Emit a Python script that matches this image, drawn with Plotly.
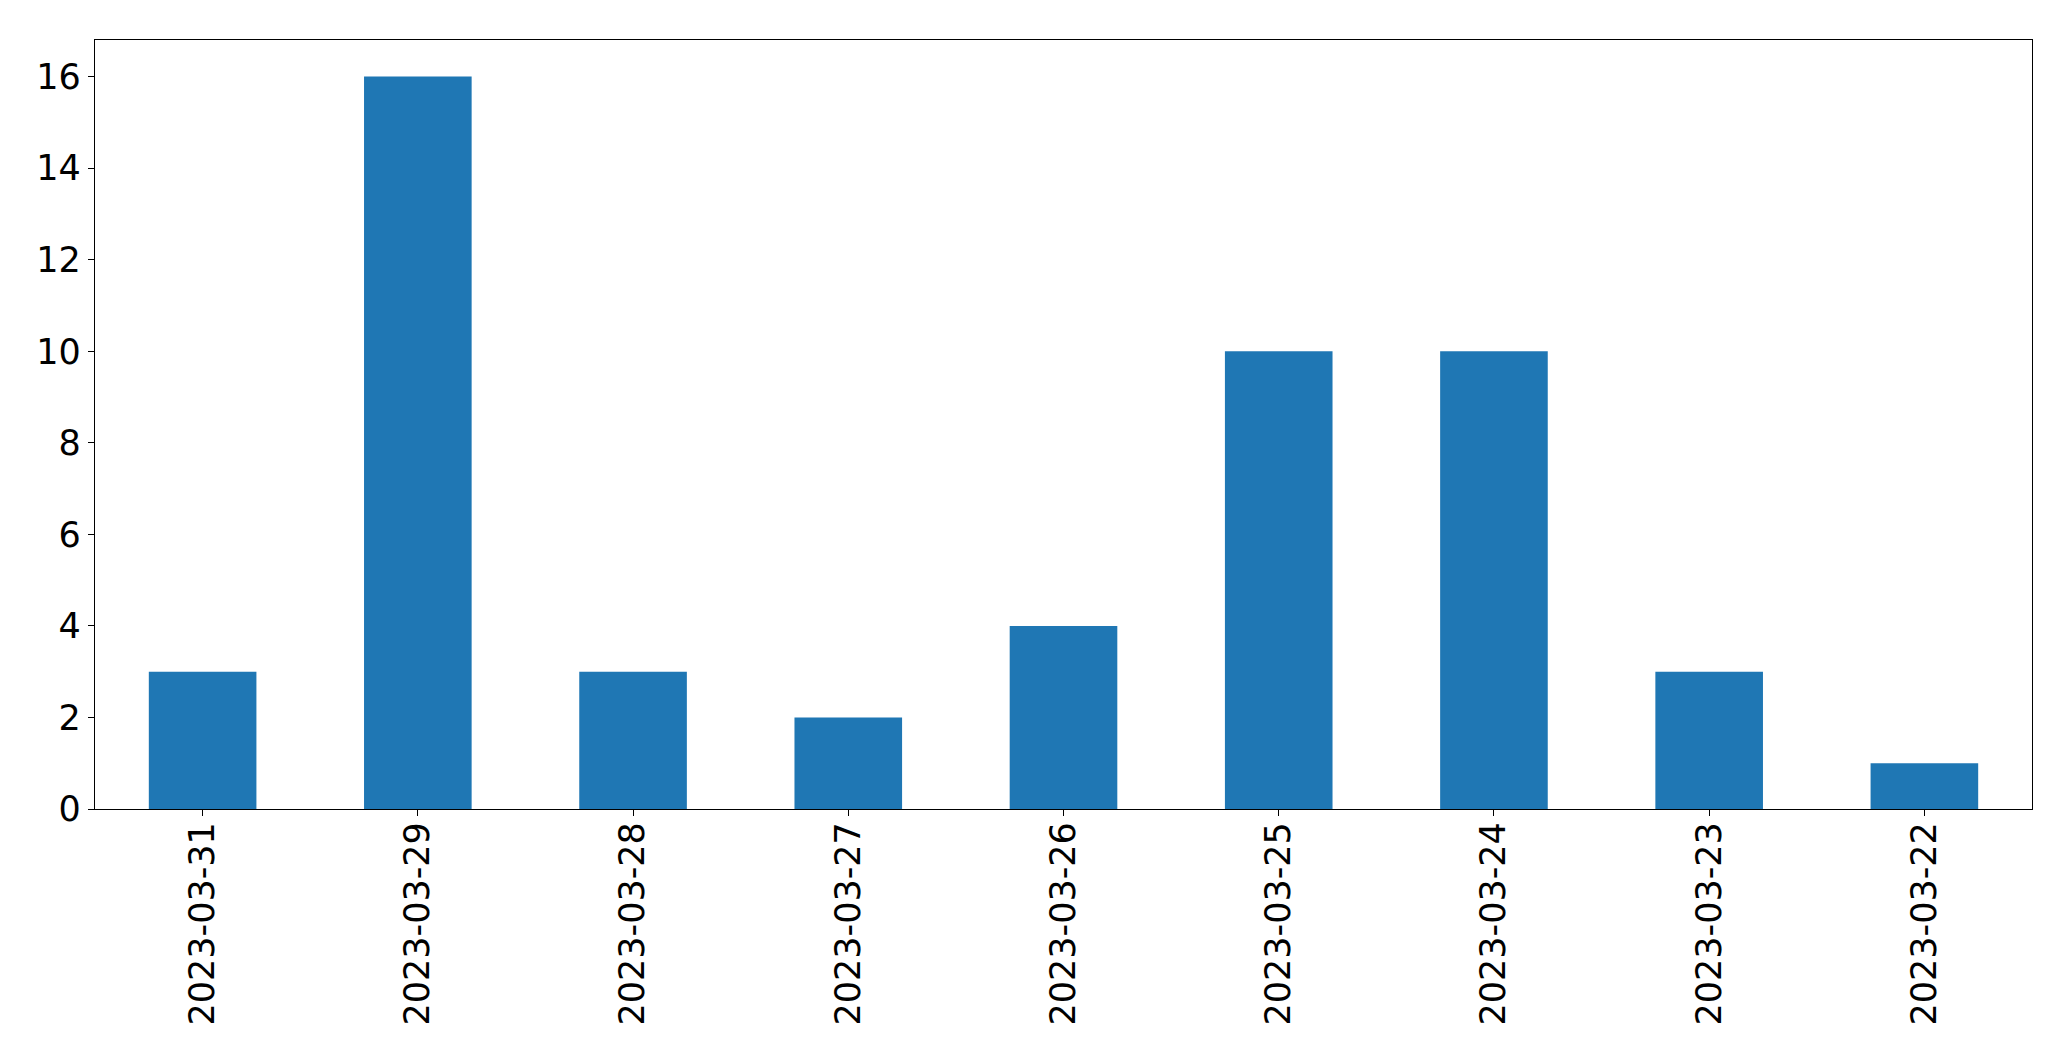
import plotly.graph_objects as go

dates = ["2023-03-31", "2023-03-29", "2023-03-28", "2023-03-27", "2023-03-26",
         "2023-03-25", "2023-03-24", "2023-03-23", "2023-03-22"]
counts = [3, 16, 3, 2, 4, 10, 10, 3, 1]
y_ticks = [0, 2, 4, 6, 8, 10, 12, 14, 16]

fig = go.Figure(go.Bar(x=dates, y=counts, marker=dict(color="#1f77b4", line=dict(width=0)), width=0.5))

font = dict(family="DejaVu Sans", size=35, color="black")
fig.update_layout(
    width=2071, height=1061,
    margin=dict(l=86.5, r=47, t=31.5, b=260, pad=0),
    paper_bgcolor="white", plot_bgcolor="white",
    showlegend=False,
    font=font,
)
fig.update_xaxes(type="category", range=[-0.5, 8.5], tickangle=-90, automargin=False,
                 ticklabelstandoff=-8,
                 showline=True, mirror=True, linecolor="black", linewidth=1.3,
                 ticks="outside", ticklen=6, tickwidth=1.3, tickcolor="black",
                 showgrid=False, zeroline=False, tickfont=font)
fig.update_yaxes(range=[0, 16.8], tickvals=y_ticks, ticktext=[str(v) for v in y_ticks], automargin=False,
                 showline=True, mirror=True, linecolor="black", linewidth=1.3,
                 ticks="outside", ticklen=6, tickwidth=1.3, tickcolor="black",
                 showgrid=False, zeroline=False, tickfont=font)

fig.write_html("out.html")
